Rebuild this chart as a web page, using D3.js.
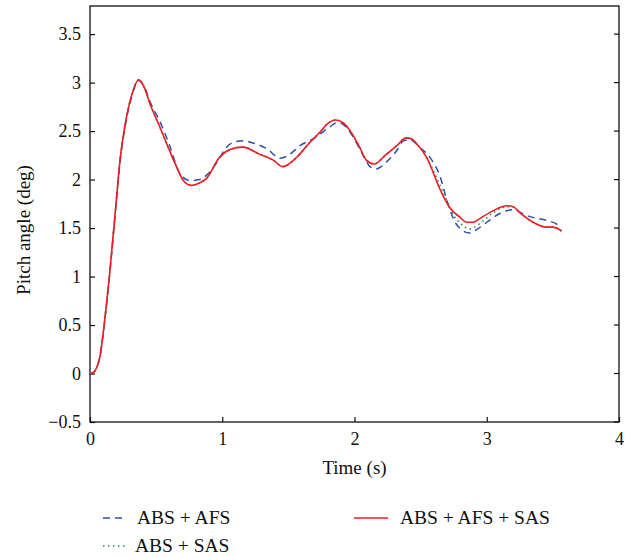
<!DOCTYPE html>
<html>
<head>
<meta charset="utf-8">
<script src="https://cdn.jsdelivr.net/npm/d3@7"></script>
<style>
  body { margin: 0; background: #fff; }
  text { font-family: "Liberation Serif", "DejaVu Serif", serif; fill: #111; }
</style>
</head>
<body>
<script>
// series values: time (s) and pitch angle (deg)
const afsT = [0, 0.025, 0.05, 0.076, 0.1, 0.125, 0.15, 0.175, 0.2, 0.228, 0.266, 0.316, 0.37, 0.41, 0.455, 0.535, 0.6, 0.68, 0.756, 0.83, 0.9, 0.97, 1.03, 1.1, 1.16, 1.25, 1.336, 1.437, 1.5, 1.588, 1.686, 1.74, 1.81, 1.875, 1.93, 1.99, 2.065, 2.12, 2.163, 2.24, 2.32, 2.37, 2.42, 2.495, 2.57, 2.65, 2.7, 2.77, 2.87, 2.93, 3.0, 3.1, 3.2, 3.3, 3.35, 3.45, 3.53, 3.55];
const afsV = [0, 0.01, 0.06, 0.18, 0.41, 0.71, 1.04, 1.41, 1.79, 2.19, 2.55, 2.86, 3.02, 2.96, 2.8, 2.58, 2.36, 2.06, 1.99, 2.0, 2.07, 2.2, 2.33, 2.39, 2.4, 2.37, 2.32, 2.22, 2.25, 2.35, 2.42, 2.47, 2.54, 2.59, 2.55, 2.44, 2.25, 2.13, 2.11, 2.18, 2.3, 2.4, 2.41, 2.33, 2.23, 2.02, 1.78, 1.54, 1.45, 1.49, 1.56, 1.65, 1.69, 1.63, 1.61, 1.58, 1.54, 1.52];

const sasT = [0, 0.025, 0.05, 0.076, 0.1, 0.125, 0.15, 0.175, 0.2, 0.227, 0.265, 0.315, 0.37, 0.41, 0.454, 0.529, 0.58, 0.655, 0.706, 0.763, 0.82, 0.88, 0.98, 1.06, 1.155, 1.285, 1.386, 1.457, 1.563, 1.66, 1.74, 1.79, 1.86, 1.92, 1.966, 2.04, 2.09, 2.147, 2.24, 2.32, 2.39, 2.43, 2.47, 2.545, 2.65, 2.72, 2.75, 2.8, 2.87, 2.95, 3.05, 3.15, 3.2, 3.25, 3.35, 3.45, 3.5, 3.566];
const sasV = [0, 0.01, 0.06, 0.18, 0.42, 0.72, 1.05, 1.42, 1.8, 2.2, 2.56, 2.87, 3.03, 2.95, 2.78, 2.54, 2.37, 2.13, 1.99, 1.94, 1.96, 2.01, 2.23, 2.31, 2.335, 2.26, 2.2, 2.134, 2.23, 2.38, 2.49, 2.57, 2.615, 2.58, 2.505, 2.33, 2.2, 2.16, 2.26, 2.35, 2.43, 2.42, 2.37, 2.23, 1.93, 1.72, 1.63, 1.55, 1.49, 1.55, 1.66, 1.72, 1.72, 1.66, 1.56, 1.51, 1.51, 1.47];

const allT = [0, 0.025, 0.05, 0.076, 0.1, 0.125, 0.15, 0.175, 0.2, 0.227, 0.265, 0.315, 0.37, 0.41, 0.454, 0.529, 0.58, 0.655, 0.706, 0.763, 0.82, 0.88, 0.98, 1.06, 1.155, 1.285, 1.386, 1.457, 1.563, 1.66, 1.74, 1.79, 1.86, 1.92, 1.966, 2.04, 2.09, 2.147, 2.24, 2.32, 2.39, 2.43, 2.47, 2.545, 2.65, 2.72, 2.79, 2.85, 2.9, 2.95, 3.05, 3.15, 3.2, 3.25, 3.35, 3.45, 3.5, 3.566];
const allV = [0, 0.01, 0.06, 0.18, 0.42, 0.72, 1.05, 1.42, 1.8, 2.2, 2.56, 2.87, 3.03, 2.95, 2.78, 2.54, 2.37, 2.13, 1.99, 1.94, 1.96, 2.01, 2.23, 2.31, 2.335, 2.26, 2.2, 2.134, 2.23, 2.38, 2.49, 2.57, 2.615, 2.58, 2.505, 2.33, 2.2, 2.16, 2.26, 2.35, 2.43, 2.42, 2.37, 2.23, 1.89, 1.71, 1.62, 1.56, 1.56, 1.6, 1.68, 1.73, 1.72, 1.66, 1.56, 1.51, 1.51, 1.47];

const seriesNames = ["ABS + AFS", "ABS + SAS", "ABS + AFS + SAS"];
const xTicks = [0, 1, 2, 3, 4];
const yTicks = [-0.5, 0, 0.5, 1, 1.5, 2, 2.5, 3, 3.5];

const width = 632, height = 558;
const mLeft = 90, mRight = 619, mTop = 6, mBottom = 422;

const svg = d3.select("body").append("svg")
    .attr("width", width)
    .attr("height", height);

const x = d3.scaleLinear().domain([0, 4]).range([mLeft, mRight]);
const y = d3.scaleLinear().domain([-0.5, 3.79]).range([mBottom, mTop]);

// frame
svg.append("rect")
    .attr("x", mLeft).attr("y", mTop)
    .attr("width", mRight - mLeft).attr("height", mBottom - mTop)
    .attr("fill", "none").attr("stroke", "#111").attr("stroke-width", 1.3);

const xAxis = d3.axisBottom(x).tickValues(xTicks).tickSize(-5).tickPadding(10).tickFormat(d3.format("d"));
svg.append("g")
    .attr("transform", `translate(0,${mBottom})`)
    .call(xAxis)
    .call(g => g.select(".domain").remove())
    .call(g => g.selectAll("line").attr("stroke", "#111").attr("stroke-width", 1.2))
    .call(g => g.selectAll("text").attr("font-size", 18).attr("font-family", "Liberation Serif").attr("fill", "#111"));

const yAxis = d3.axisLeft(y).tickValues(yTicks).tickSize(-5).tickPadding(9)
    .tickFormat(d => d < 0 ? "\u2212" + Math.abs(d) : String(d));
svg.append("g")
    .attr("transform", `translate(${mLeft},0)`)
    .call(yAxis)
    .call(g => g.select(".domain").remove())
    .call(g => g.selectAll("line").attr("stroke", "#111").attr("stroke-width", 1.2))
    .call(g => g.selectAll("text").attr("font-size", 18).attr("font-family", "Liberation Serif").attr("fill", "#111"));

// right-side ticks like MATLAB box
svg.append("g").selectAll("line").data(yTicks).enter().append("line")
    .attr("x1", mRight).attr("x2", mRight - 5)
    .attr("y1", d => y(d)).attr("y2", d => y(d))
    .attr("stroke", "#111").attr("stroke-width", 1.2);

// axis titles
svg.append("text")
    .attr("x", (mLeft + mRight) / 2).attr("y", 474)
    .attr("text-anchor", "middle").attr("font-size", 19)
    .text("Time (s)");
svg.append("text")
    .attr("transform", `translate(30,${(mTop + mBottom) / 2 + 16}) rotate(-90)`)
    .attr("text-anchor", "middle").attr("font-size", 19)
    .text("Pitch angle (deg)");

const line = d3.line().x(d => x(d[0])).y(d => y(d[1])).curve(d3.curveMonotoneX);
const zip = (t, v) => t.map((d, i) => [d, v[i]]);

const styles = [
    { color: "#2f4fa8", dash: "7,5", w: 1.5 },
    { color: "#2e8b57", dash: "1.5,3.5", w: 1.6 },
    { color: "#f01c24", dash: null, w: 1.6 }
];
const series = [zip(afsT, afsV), zip(sasT, sasV), zip(allT, allV)];

series.forEach((s, i) => {
    svg.append("path")
        .datum(s)
        .attr("d", line)
        .attr("fill", "none")
        .attr("stroke", styles[i].color)
        .attr("stroke-width", styles[i].w)
        .attr("stroke-dasharray", styles[i].dash);
});

// legend
const legendPos = [[103, 518], [103, 546], [354, 518]];
seriesNames.forEach((name, i) => {
    const [lx, ly] = legendPos[i];
    const len = i === 2 ? 34 : 23;
    svg.append("line")
        .attr("x1", lx).attr("x2", lx + len)
        .attr("y1", ly).attr("y2", ly)
        .attr("stroke", styles[i].color)
        .attr("stroke-width", styles[i].w)
        .attr("stroke-dasharray", styles[i].dash);
    svg.append("text")
        .attr("x", i === 2 ? 400 : (i === 0 ? 137 : 135))
        .attr("y", ly + 6)
        .attr("font-size", 19.5)
        .text(name);
});
</script>
</body>
</html>
